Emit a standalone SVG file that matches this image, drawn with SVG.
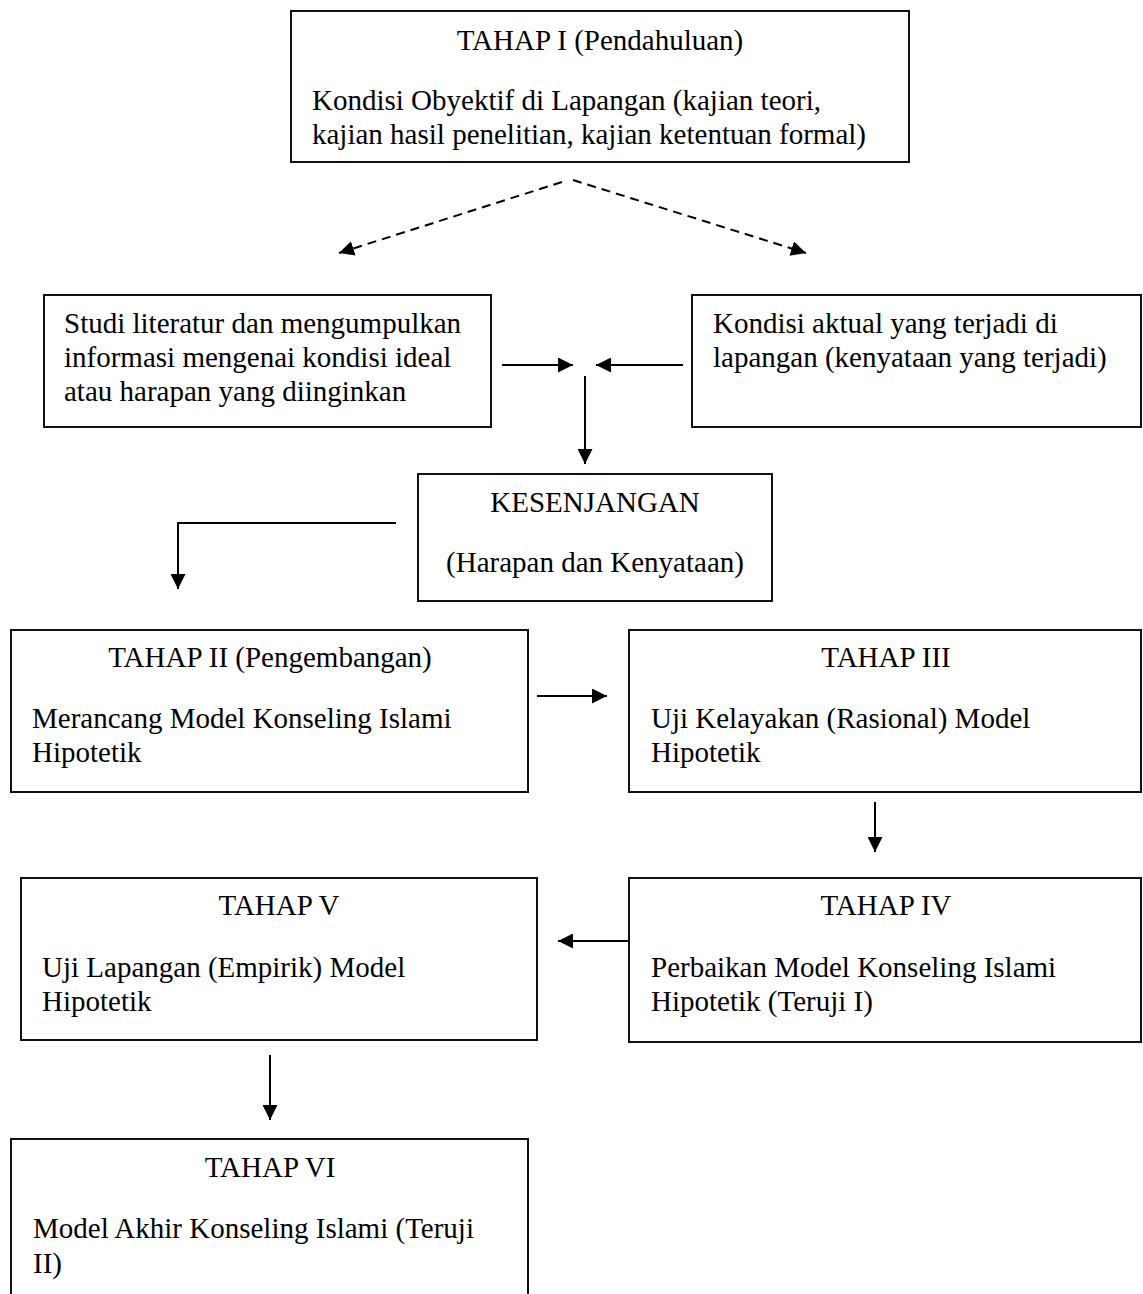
<svg xmlns="http://www.w3.org/2000/svg" width="1143" height="1294" viewBox="0 0 1143 1294">
<defs>
<marker id="ah" viewBox="0 0 15 15" refX="15" refY="7.5" markerWidth="15" markerHeight="15" markerUnits="userSpaceOnUse" orient="auto">
<path d="M0,0 L15,7.5 L0,15 z" fill="#000"/>
</marker>
<style>
.box{fill:#fff;stroke:#111;stroke-width:2}
.t{font-family:"Liberation Serif","Times New Roman",serif;font-size:29px;fill:#000}
.c{text-anchor:middle}
.con{fill:none;stroke:#000;stroke-width:2}
.dash{stroke-dasharray:9 6}
</style>
</defs>
<rect width="1143" height="1294" fill="#fff"/>

<g id="tahap1">
<rect class="box" x="291" y="11" width="618" height="151"/>
<text class="t c" x="600" y="50">TAHAP I (Pendahuluan)</text>
<text class="t" x="312" y="110">Kondisi Obyektif di Lapangan (kajian teori,</text>
<text class="t" x="312" y="144">kajian hasil penelitian, kajian ketentuan formal)</text>
</g>

<g id="studi">
<rect class="box" x="44" y="295" width="447" height="132"/>
<text class="t" x="64" y="333">Studi literatur dan mengumpulkan</text>
<text class="t" x="64" y="367">informasi mengenai kondisi ideal</text>
<text class="t" x="64" y="401">atau harapan yang diinginkan</text>
</g>

<g id="aktual">
<rect class="box" x="692" y="295" width="449" height="132"/>
<text class="t" x="713" y="333">Kondisi aktual yang terjadi di</text>
<text class="t" x="713" y="367">lapangan (kenyataan yang terjadi)</text>
</g>

<g id="kesenjangan">
<rect class="box" x="418" y="474" width="354" height="127"/>
<text class="t c" x="595" y="512">KESENJANGAN</text>
<text class="t c" x="595" y="572">(Harapan dan Kenyataan)</text>
</g>

<g id="tahap2">
<rect class="box" x="11" y="630" width="517" height="162"/>
<text class="t c" x="270" y="667">TAHAP II (Pengembangan)</text>
<text class="t" x="32" y="728">Merancang Model Konseling Islami</text>
<text class="t" x="32" y="762">Hipotetik</text>
</g>

<g id="tahap3">
<rect class="box" x="629" y="630" width="512" height="162"/>
<text class="t c" x="886" y="667">TAHAP III</text>
<text class="t" x="651" y="728">Uji Kelayakan (Rasional) Model</text>
<text class="t" x="651" y="762">Hipotetik</text>
</g>

<g id="tahap4">
<rect class="box" x="629" y="878" width="512" height="164"/>
<text class="t c" x="886" y="915">TAHAP IV</text>
<text class="t" x="651" y="977">Perbaikan Model Konseling Islami</text>
<text class="t" x="651" y="1011">Hipotetik (Teruji I)</text>
</g>

<g id="tahap5">
<rect class="box" x="21" y="878" width="516" height="162"/>
<text class="t c" x="279" y="915">TAHAP V</text>
<text class="t" x="42" y="977">Uji Lapangan (Empirik) Model</text>
<text class="t" x="42" y="1011">Hipotetik</text>
</g>

<g id="tahap6">
<path class="box" d="M11,1300 L11,1139 L528,1139 L528,1300"/>
<text class="t c" x="270" y="1177">TAHAP VI</text>
<text class="t" x="33" y="1238">Model Akhir Konseling Islami (Teruji</text>
<text class="t" x="33" y="1273">II)</text>
</g>

<g id="connectors">
<path class="con dash" d="M562,182 L339,253" marker-end="url(#ah)"/>
<path class="con dash" d="M573,180 L806,253" marker-end="url(#ah)"/>
<path class="con" d="M502,365 L573,365" marker-end="url(#ah)"/>
<path class="con" d="M683,365 L596,365" marker-end="url(#ah)"/>
<path class="con" d="M585,376 L585,464" marker-end="url(#ah)"/>
<path class="con" d="M396,523 L178,523 L178,589" marker-end="url(#ah)"/>
<path class="con" d="M537,696 L607,696" marker-end="url(#ah)"/>
<path class="con" d="M875,802 L875,852" marker-end="url(#ah)"/>
<path class="con" d="M629,941 L558,941" marker-end="url(#ah)"/>
<path class="con" d="M270,1055 L270,1120" marker-end="url(#ah)"/>
</g>
</svg>
